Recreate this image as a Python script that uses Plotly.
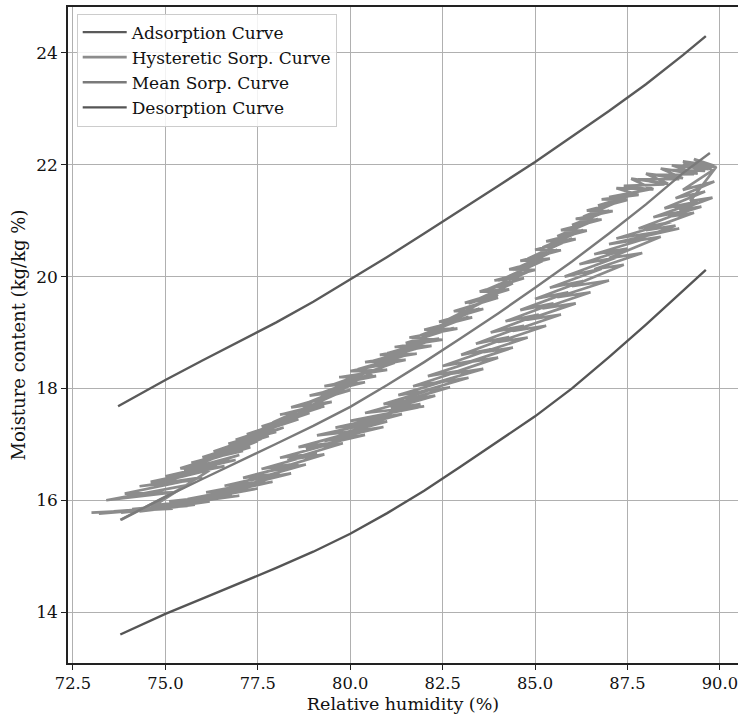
import plotly.graph_objects as go

# Adsorption (upper) curve
ads_rh = [73.72, 75, 76, 77, 78, 79, 80, 81, 82, 83, 84, 85, 86, 87, 88, 89, 89.62]
ads_mc = [17.68, 18.15, 18.50, 18.84, 19.18, 19.55, 19.95, 20.35, 20.77, 21.19,
          21.62, 22.05, 22.50, 22.96, 23.44, 23.96, 24.30]

# Desorption (lower) curve
des_rh = [73.78, 75, 76, 77, 78, 79, 80, 81, 82, 83, 84, 85, 86, 87, 88, 89, 89.62]
des_mc = [13.60, 13.97, 14.24, 14.51, 14.79, 15.08, 15.40, 15.77, 16.17, 16.61,
          17.05, 17.50, 18.00, 18.56, 19.14, 19.74, 20.12]

# Mean sorption curve
mean_rh = [73.78, 75, 76, 77, 78, 79, 80, 81, 82, 83, 84, 85, 86, 87, 88, 89, 89.73]
mean_mc = [15.65, 16.06, 16.38, 16.69, 17.01, 17.33, 17.67, 18.06, 18.47, 18.90,
           19.34, 19.80, 20.27, 20.77, 21.29, 21.85, 22.21]

# Hysteretic sorption curve (scanning path): two wetting / drying cycles
hyst_rh = [
    # wetting 1
    73.80, 75.60, 73.40, 75.20, 73.90, 76.00, 74.30, 75.80, 74.60, 76.60,
    75.00, 76.90, 75.40, 77.30, 75.70, 77.10, 76.00, 77.80, 76.30, 78.20,
    76.70, 78.00, 76.90, 78.60, 77.20, 78.90, 77.60, 79.30, 78.10, 79.50,
    78.40, 80.00, 78.90, 80.40, 79.30, 80.70, 79.70, 81.00, 80.00, 81.50,
    80.40, 81.80, 80.80, 82.20, 81.20, 82.50, 81.60, 82.90, 82.00, 83.30,
    82.40, 83.60, 82.80, 84.00, 83.10, 84.30, 83.50, 84.70, 83.90, 85.00,
    84.30, 85.40, 84.60, 85.70, 85.00, 86.10, 85.30, 86.40, 85.70, 86.80,
    86.10, 87.10, 86.40, 87.50, 86.80, 87.80, 87.20, 88.20, 87.60, 88.60,
    88.00, 89.00, 88.40, 89.40, 88.70, 89.70, 89.00, 89.85, 89.30, 89.80,
    # drying 1
    89.00, 89.85, 88.80, 89.60, 88.50, 89.40, 88.20, 89.10, 87.80, 88.70,
    87.20, 88.90, 87.00, 88.00, 86.60, 87.50, 86.20, 87.20, 85.80, 86.80,
    85.40, 86.30, 85.00, 85.90, 84.60, 85.50, 84.20, 85.10, 83.80, 84.70,
    83.40, 84.30, 83.00, 83.80, 82.50, 83.40, 82.10, 83.00, 81.70, 82.50,
    81.30, 82.10, 80.90, 81.80, 80.40, 82.00, 80.00, 81.00, 79.60, 80.60,
    79.10, 80.20, 78.60, 79.60, 78.10, 79.10, 77.60, 78.60, 77.10, 78.10,
    76.60, 77.70, 76.10, 77.20, 75.60, 76.80, 75.10, 76.40, 74.60, 76.00,
    74.10, 75.60, 73.60, 75.20, 73.00, 74.50,
    # wetting 2
    76.20, 74.80, 76.40, 75.20, 77.00, 75.50, 77.50, 76.10, 77.60, 76.50,
    78.40, 77.00, 78.70, 77.40, 79.10, 77.90, 79.80, 78.60, 80.20, 79.10,
    80.60, 79.50, 81.20, 80.20, 81.60, 80.60, 82.00, 81.00, 82.40, 81.50,
    82.80, 81.90, 83.20, 82.20, 83.50, 82.60, 84.00, 83.20, 84.40, 83.70,
    84.80, 84.00, 85.20, 84.40, 85.60, 84.80, 86.00, 85.20, 86.30, 85.60,
    86.70, 86.00, 87.00, 86.30, 87.40, 86.70, 87.70, 87.00, 88.10, 87.40,
    88.50, 87.80, 88.90, 88.20, 89.30, 88.60, 89.60, 89.00, 89.90,
    # drying 2
    89.20, 89.80, 88.90, 89.50, 88.60, 89.30, 88.00, 88.80, 87.60, 88.40,
    87.00, 87.90, 86.60, 87.40, 86.00, 87.00, 85.60, 86.50, 85.20, 86.10,
    84.80, 85.70, 84.40, 85.30, 84.00, 84.80, 83.60, 84.40, 83.20, 84.00,
    82.70, 83.60, 82.30, 83.20, 81.90, 82.70, 81.50, 82.30, 81.10, 81.90,
    80.60, 81.40, 80.20, 81.00, 79.80, 80.90, 79.30, 80.40, 78.80, 79.80,
    78.30, 79.30, 77.80, 78.80, 77.30, 78.40, 76.80, 77.90, 76.30, 77.50,
    75.80, 77.00, 75.30, 76.60, 74.80, 76.20, 74.30, 75.80, 73.80, 75.00,
    73.20, 74.20,
]
hyst_mc = [
    # wetting 1
    15.65, 16.27, 16.00, 16.14, 16.12, 16.41, 16.25, 16.36, 16.33, 16.61,
    16.43, 16.72, 16.57, 16.95, 16.67, 16.88, 16.77, 17.15, 16.87, 17.30,
    17.01, 17.22, 17.08, 17.45, 17.18, 17.56, 17.32, 17.68, 17.53, 17.76,
    17.66, 17.97, 17.87, 18.11, 18.04, 18.22, 18.20, 18.33, 18.31, 18.51,
    18.47, 18.62, 18.60, 18.76, 18.74, 18.87, 18.91, 19.07, 19.05, 19.27,
    19.19, 19.42, 19.38, 19.62, 19.53, 19.77, 19.73, 19.97, 19.93, 20.12,
    20.13, 20.32, 20.28, 20.47, 20.48, 20.67, 20.63, 20.82, 20.83, 21.02,
    21.03, 21.17, 21.18, 21.37, 21.38, 21.46, 21.58, 21.56, 21.75, 21.66,
    21.84, 21.76, 21.93, 21.84, 21.99, 21.92, 22.06, 21.98, 22.10, 21.90,
    # drying 1
    21.55, 21.70, 21.40, 21.52, 21.22, 21.34, 21.06, 21.18, 20.86, 20.98,
    20.68, 20.86, 20.58, 20.68, 20.40, 20.50, 20.22, 20.34, 20.00, 20.14,
    19.80, 19.92, 19.60, 19.72, 19.40, 19.52, 19.20, 19.32, 19.00, 19.12,
    18.80, 18.92, 18.60, 18.70, 18.40, 18.50, 18.22, 18.32, 18.04, 18.12,
    17.88, 17.96, 17.72, 17.82, 17.56, 17.68, 17.42, 17.50, 17.30, 17.38,
    17.16, 17.24, 16.95, 17.03, 16.76, 16.84, 16.56, 16.66, 16.40, 16.48,
    16.26, 16.34, 16.14, 16.22, 16.02, 16.10, 15.98, 16.05, 15.90, 15.96,
    15.84, 15.90, 15.80, 15.85, 15.78, 15.82,
    # wetting 2
    16.54, 16.32, 16.61, 16.44, 16.81, 16.54, 17.06, 16.74, 17.10, 16.88,
    17.44, 17.05, 17.54, 17.19, 17.65, 17.39, 17.95, 17.68, 18.10, 17.89,
    18.25, 18.06, 18.46, 18.34, 18.61, 18.49, 18.75, 18.63, 18.89, 18.81,
    19.08, 18.95, 19.28, 19.06, 19.43, 19.22, 19.68, 19.52, 19.88, 19.77,
    20.08, 19.92, 20.28, 20.12, 20.48, 20.32, 20.68, 20.52, 20.83, 20.72,
    21.03, 20.92, 21.18, 21.07, 21.38, 21.27, 21.47, 21.42, 21.56, 21.62,
    21.65, 21.74, 21.74, 21.82, 21.83, 21.91, 21.89, 22.00, 21.96,
    # drying 2
    21.35, 21.41, 21.19, 21.25, 21.07, 21.14, 20.83, 20.91, 20.63, 20.71,
    20.33, 20.42, 20.13, 20.21, 19.83, 19.93, 19.63, 19.72, 19.43, 19.52,
    19.23, 19.32, 19.03, 19.12, 18.83, 18.91, 18.65, 18.73, 18.47, 18.55,
    18.26, 18.35, 18.10, 18.19, 17.94, 18.02, 17.79, 17.87, 17.64, 17.72,
    17.46, 17.54, 17.33, 17.41, 17.20, 17.31, 17.06, 17.17, 16.92, 17.02,
    16.72, 16.82, 16.52, 16.64, 16.36, 16.48, 16.22, 16.33, 16.10, 16.21,
    16.00, 16.08, 15.93, 16.05, 15.86, 15.98, 15.80, 15.92, 15.78, 15.86,
    15.76, 15.82,
]

x_ticks = [72.5, 75.0, 77.5, 80.0, 82.5, 85.0, 87.5, 90.0]
y_ticks = [14, 16, 18, 20, 22, 24]

FONT = "DejaVu Serif"

fig = go.Figure()
fig.add_trace(go.Scatter(x=ads_rh, y=ads_mc, mode="lines", name="Adsorption Curve",
                         line=dict(color="#5a5a5a", width=2.4)))
fig.add_trace(go.Scatter(x=hyst_rh, y=hyst_mc, mode="lines", name="Hysteretic Sorp. Curve",
                         line=dict(color="#8c8c8c", width=2.7)))
fig.add_trace(go.Scatter(x=mean_rh, y=mean_mc, mode="lines", name="Mean Sorp. Curve",
                         line=dict(color="#7a7a7a", width=2.4)))
fig.add_trace(go.Scatter(x=des_rh, y=des_mc, mode="lines", name="Desorption Curve",
                         line=dict(color="#555555", width=2.4)))

fig.update_layout(
    width=738, height=718, autosize=False,
    margin=dict(l=68, r=0, t=7, b=55),
    plot_bgcolor="white", paper_bgcolor="white",
    font=dict(family=FONT, size=17, color="#111"),
    legend=dict(x=0.013, y=0.99, xanchor="left", yanchor="top", itemwidth=44,
                bgcolor="rgba(255,255,255,0.85)", bordercolor="#cccccc", borderwidth=1,
                font=dict(family=FONT, size=17, color="#111")),
    xaxis=dict(range=[72.365, 90.49], tickvals=x_ticks, tickformat=".1f",
               tickfont=dict(size=16.3), ticklabeloverflow="allow",
               showgrid=True, gridcolor="#b0b0b0", gridwidth=1.3,
               showline=True, linecolor="#222", linewidth=1.5, mirror=True,
               ticks="outside", ticklen=5, tickcolor="#222", zeroline=False,
               title=dict(text="Relative humidity (%)", standoff=5,
                          font=dict(family=FONT, size=17.5))),
    yaxis=dict(range=[13.09, 24.82], tickvals=y_ticks,
               tickfont=dict(size=17),
               showgrid=True, gridcolor="#b0b0b0", gridwidth=1.3,
               showline=True, linecolor="#222", linewidth=1.5, mirror=False,
               ticks="outside", ticklen=5, tickcolor="#222", zeroline=False,
               title=dict(text="Moisture content (kg/kg %)", standoff=6,
                          font=dict(family=FONT, size=18))),
)

fig.write_html("out.html")
